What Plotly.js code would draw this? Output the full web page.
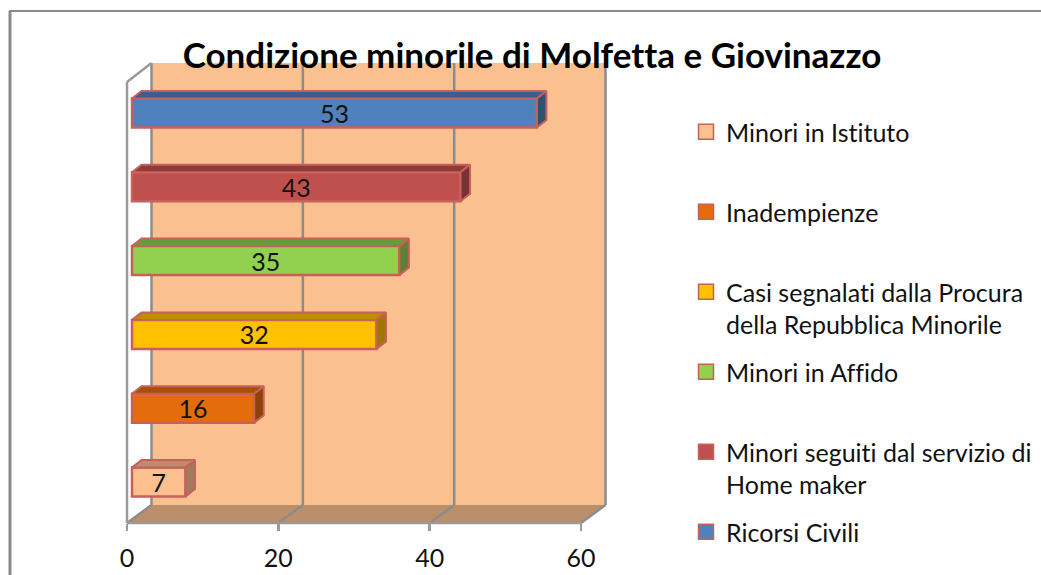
<!DOCTYPE html>
<html>
<head>
<meta charset="utf-8">
<script src="https://cdn.plot.ly/plotly-3.0.1.min.js"></script>
<style>html,body{margin:0;padding:0;background:#fff}#c{width:1041px;height:575px}svg text{font-variant-ligatures:none;font-feature-settings:"liga" 0}</style>
</head>
<body>
<div id="c"></div>
<script>
var categories = ["Minori in Istituto", "Inadempienze", "Casi segnalati dalla Procura<br>della Repubblica Minorile", "Minori in Affido", "Minori seguiti dal servizio di<br>Home maker", "Ricorsi Civili"];
var values = [7, 16, 32, 35, 43, 53];
var faceColors = ["#FCC08F", "#E46C0A", "#FFC000", "#92D050", "#C0504D", "#4F81BD"];
var topColors = ["#BA8E6A", "#A85007", "#BC8E00", "#6C9A3B", "#8E3B39", "#3A5F8C"];
var sideColors = ["#A27B5C", "#8E4306", "#A07800", "#5B8232", "#78322F", "#315077"];
var legendY = [132, 212, 292, 372, 452, 532];
var axisTicks = [0, 20, 40, 60];

var W = 1041, H = 575, FONT = "Lato, sans-serif";
var L = 127, R = 606, T = 63, B = 523;
var pw = R - L, ph = B - T;
var axisPx = 7.567, barPx = 7.64, barZero = 132;
var rowPx = 73.8, row0 = 482;
var wallDx = 24.5, wallDy = 18;
var barDx = 9.5, barDy = 7.5, barH = 29;
var px = function (v) { return (v - L) / pw; };
var py = function (v) { return (B - v) / ph; };

var xRange = [0, pw / axisPx];
var x2Range = [(L - barZero) / barPx, (R - barZero) / barPx];
var yRange = [(row0 - B) / rowPx, (row0 - T) / rowPx];
var dxU = barDx / barPx, dyU = barDy / rowPx, hU = barH / rowPx;

var traces = [];
values.forEach(function (v, i) {
  traces.push({
    type: "bar", orientation: "h", xaxis: "x2", yaxis: "y",
    x: [v], y: [i], width: hU, showlegend: false, hoverinfo: "skip",
    marker: { color: faceColors[i], line: { color: "#C8605C", width: 2.5 } },
    text: [String(v)], textposition: "inside", insidetextanchor: "middle",
    textangle: 0, constraintext: "none",
    textfont: { family: FONT, size: 25, color: "#111" }
  });
  var t = i + hU / 2, b = i - hU / 2;
  traces.push({
    type: "scatter", mode: "lines", xaxis: "x2", yaxis: "y", fill: "toself",
    fillcolor: topColors[i], line: { color: "#C8605C", width: 2 },
    x: [0, dxU, v + dxU, v, 0], y: [t, t + dyU, t + dyU, t, t],
    showlegend: false, hoverinfo: "skip"
  });
  traces.push({
    type: "scatter", mode: "lines", xaxis: "x2", yaxis: "y", fill: "toself",
    fillcolor: sideColors[i], line: { color: "#C8605C", width: 2 },
    x: [v, v + dxU, v + dxU, v, v], y: [t, t + dyU, b + dyU, b, t],
    showlegend: false, hoverinfo: "skip"
  });
});
// legend keys
categories.forEach(function (c, i) {
  traces.push({
    type: "scatter", mode: "markers", xaxis: "x", yaxis: "y",
    x: [null], y: [null], name: c, hoverinfo: "skip",
    legend: i === 0 ? "legend" : "legend" + (i + 1),
    marker: { symbol: "square", size: 15, color: faceColors[i], line: { color: "#C8605C", width: 1.5 } }
  });
});

var shapes = [];
function line(x0, y0, x1, y1, color, w, layer) {
  shapes.push({ type: "line", xref: "paper", yref: "paper", layer: layer || "below",
    x0: px(x0), y0: py(y0), x1: px(x1), y1: py(y1), line: { color: color, width: w } });
}
function poly(pts, color) {
  var d = pts.map(function (p, k) { return (k ? "L" : "M") + px(p[0]) + "," + py(p[1]); }).join("") + "Z";
  shapes.push({ type: "path", xref: "paper", yref: "paper", layer: "below", path: d,
    fillcolor: color, line: { width: 0 } });
}
var GRID = "#8C8C8C";
// back wall and floor
poly([[L + wallDx, T], [R, T], [R, B - wallDy], [L + wallDx, B - wallDy]], "#FBC08F");
poly([[L, B], [L + wallDx, B - wallDy], [R, B - wallDy], [R - wallDx, B]], "#BC8F6B");
axisTicks.forEach(function (t) {
  var x = L + t * axisPx;
  line(x, B, x + wallDx, B - wallDy, GRID, 2.5);
  line(x + wallDx, B - wallDy, x + wallDx, T, GRID, 2.5);
});
// side wall and axis
line(L, B, L, T + 19, "#9A9A9A", 2.5);
line(L, T + 19, L + wallDx, T, "#9A9A9A", 2.5);
line(L, B, R - wallDx, B, "#9A9A9A", 2.5);
// outer frame of the picture
line(9, 11, W, 11, "#8A8A8A", 2);
line(10, 11, 10, H, "#8A8A8A", 3);

var layout = {
  width: W, height: H,
  paper_bgcolor: "#fff", plot_bgcolor: "rgba(0,0,0,0)",
  margin: { l: L, r: W - R, t: T, b: H - B, pad: 0, autoexpand: false },
  barmode: "overlay",
  title: { text: "<b>Condizione minorile di Molfetta e Giovinazzo</b>",
    x: 532 / W, xanchor: "center", y: 1 - 56 / H, yanchor: "middle",
    font: { family: FONT, size: 35, color: "#000" } },
  xaxis: { range: xRange, tickvals: axisTicks, showgrid: false, zeroline: false, showline: false,
    ticks: "outside", ticklen: 7, tickwidth: 2.5, tickcolor: "#9A9A9A", ticklabelstandoff: 6,
    tickfont: { family: FONT, size: 25, color: "#111" }, fixedrange: true },
  xaxis2: { range: x2Range, overlaying: "x", visible: false, fixedrange: true },
  yaxis: { range: yRange, visible: false, fixedrange: true },
  shapes: shapes
};
legendY.forEach(function (y, i) {
  layout[i === 0 ? "legend" : "legend" + (i + 1)] = {
    x: px(686), y: py(y - 23), xanchor: "left", yanchor: "top", valign: "top",
    bgcolor: "rgba(0,0,0,0)", borderwidth: 0,
    font: { family: FONT, size: 25, color: "#111" }
  };
});
Plotly.newPlot("c", traces, layout, { displayModeBar: false, staticPlot: true });
</script>
</body>
</html>
